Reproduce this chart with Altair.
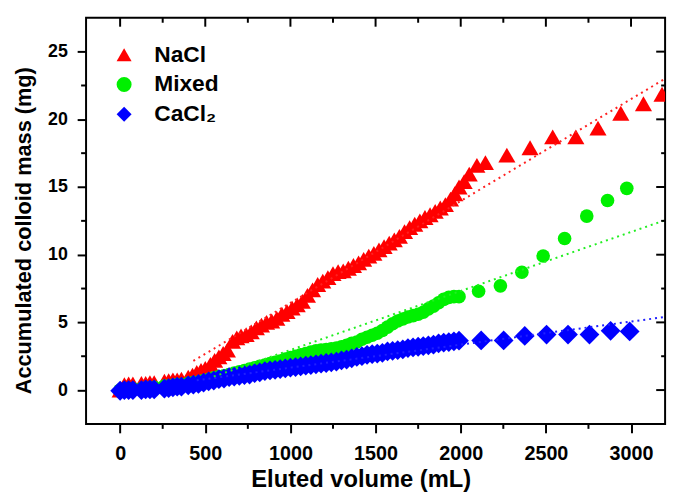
import altair as alt
import pandas as pd

series_names = ["NaCl", "Mixed", "CaCl₂"]
series_colors = ["#ff0000", "#00f000", "#0000ff"]
series_shapes = ["triangle-up", "circle", "diamond"]
series_sizes = [300, 190, 400]

nacl_v = [0, 25, 50, 75, 125, 150, 175, 200, 260, 285, 310, 335, 360, 400, 425, 450, 475, 500,
          530, 555, 580, 605, 630, 660, 685, 710, 740, 770, 800, 830, 860, 890, 920, 950, 980,
          1010, 1040, 1070, 1100, 1130, 1160, 1190, 1220, 1250, 1280, 1310, 1340, 1370, 1400,
          1430, 1460, 1490, 1520, 1550, 1580, 1610, 1640, 1670, 1700, 1730, 1760, 1790, 1820,
          1850, 1880, 1910, 1940, 1965, 1990, 2020, 2050, 2095, 2145, 2271, 2407, 2540, 2676,
          2806, 2940, 3073, 3182]
nacl_m = [0.0, 0.4, 0.45, 0.45, 0.5, 0.5, 0.55, 0.55, 0.65, 0.7, 0.75, 0.75, 0.8, 0.95, 1.1, 1.3,
          1.45, 1.6, 1.9, 2.2, 2.45, 2.7, 2.95, 3.6, 3.85, 4.0, 4.1, 4.3, 4.6, 4.8, 5.0, 5.1, 5.3,
          5.6, 5.8, 6.05, 6.3, 6.55, 7.0, 7.4, 7.8, 8.05, 8.3, 8.6, 8.75, 8.8, 9.0, 9.2, 9.4,
          9.65, 9.9, 10.1, 10.35, 10.6, 10.85, 11.1, 11.35, 11.7, 12.0, 12.25, 12.5, 12.75,
          12.95, 13.2, 13.45, 13.7, 14.1, 14.5, 15.0, 15.4, 15.95, 16.6, 16.8, 17.35, 17.9,
          18.7, 18.7, 19.35, 20.45, 21.15, 21.85]

mixed_v = [0, 25, 50, 75, 125, 150, 175, 200, 260, 285, 310, 335, 360, 400, 430, 460, 490, 520,
           550, 580, 610, 640, 670, 700, 730, 760, 790, 820, 850, 880, 910, 940, 970, 1000, 1030,
           1060, 1090, 1120, 1150, 1180, 1210, 1240, 1270, 1300, 1330, 1360, 1390, 1420, 1450,
           1480, 1510, 1540, 1570, 1600, 1630, 1660, 1690, 1720, 1750, 1780, 1810, 1840, 1870,
           1900, 1930, 1960, 1990, 2105, 2233, 2359, 2484, 2610, 2740, 2862, 2975]
mixed_m = [0.0, 0.05, 0.1, 0.1, 0.1, 0.15, 0.15, 0.2, 0.3, 0.3, 0.35, 0.4, 0.4, 0.5, 0.55, 0.6,
           0.7, 0.8, 0.9, 1.0, 1.05, 1.15, 1.25, 1.35, 1.45, 1.55, 1.65, 1.75, 1.85, 1.95, 2.05,
           2.15, 2.3, 2.4, 2.5, 2.6, 2.7, 2.8, 2.9, 2.95, 3.0, 3.05, 3.1, 3.2, 3.3, 3.45, 3.55,
           3.75, 3.9, 4.05, 4.2, 4.4, 4.65, 4.9, 5.1, 5.25, 5.4, 5.5, 5.6, 5.75, 6.0, 6.2, 6.45,
           6.7, 6.85, 6.9, 6.9, 7.3, 7.7, 8.7, 9.9, 11.2, 12.85, 14.0, 14.9]

cacl2_v = [0, 25, 50, 75, 125, 150, 175, 200, 260, 285, 310, 335, 360, 400, 430, 460, 490, 520,
           550, 580, 610, 640, 670, 700, 730, 760, 790, 820, 850, 880, 910, 940, 970, 1000, 1030,
           1060, 1090, 1120, 1150, 1180, 1210, 1240, 1270, 1300, 1330, 1360, 1390, 1420, 1450,
           1480, 1510, 1540, 1570, 1600, 1630, 1660, 1690, 1720, 1750, 1780, 1810, 1840, 1870,
           1900, 1930, 1960, 1990, 2120, 2252, 2376, 2504, 2630, 2756, 2880, 2992]
cacl2_m = [-0.05, 0.0, 0.0, 0.0, 0.0, 0.05, 0.05, 0.05, 0.1, 0.15, 0.2, 0.25, 0.25, 0.35, 0.4,
           0.45, 0.55, 0.65, 0.7, 0.8, 0.85, 0.95, 1.0, 1.05, 1.1, 1.15, 1.25, 1.3, 1.4, 1.45,
           1.5, 1.55, 1.6, 1.65, 1.7, 1.75, 1.8, 1.85, 1.9, 1.95, 2.0, 2.05, 2.1, 2.2, 2.25,
           2.35, 2.45, 2.5, 2.6, 2.65, 2.7, 2.75, 2.85, 2.9, 2.95, 3.0, 3.1, 3.15, 3.2, 3.25,
           3.3, 3.35, 3.45, 3.5, 3.55, 3.6, 3.65, 3.67, 3.67, 4.0, 4.1, 4.1, 4.1, 4.38, 4.33]

# dotted fit lines (end points)
nacl_fit_v = [430, 3200]
nacl_fit_m = [2.15, 23.0]
mixed_fit_v = [550, 3200]
mixed_fit_m = [1.0, 12.55]
cacl2_fit_v = [450, 3200]
cacl2_fit_m = [0.72, 5.4]

x_major = [0, 500, 1000, 1500, 2000, 2500, 3000]
x_minor = [250, 750, 1250, 1750, 2250, 2750]
y_major = [0, 5, 10, 15, 20, 25]
y_minor = [2.5, 7.5, 12.5, 17.5, 22.5]

FONT = "Liberation Sans"
W, H = 586, 411

xs = alt.Scale(domain=[-200, 3200], nice=False, zero=False)
ys = alt.Scale(domain=[-2.5, 27.5], nice=False, zero=False)

leg = alt.Legend(title=None, orient="none", legendX=27, legendY=26, labelFontSize=23,
                 labelFont=FONT, labelFontWeight="bold", labelColor="black",
                 symbolSize=230, rowPadding=6, labelOffset=19, padding=0,
                 symbolStrokeWidth=0)

x_enc = alt.X("v:Q", scale=xs, axis=alt.Axis(values=x_major, format="d", title="Eluted volume (mL)",
                                             tickSize=9, labelPadding=11, titlePadding=4,
                                             labelFontSize=20, titleFontSize=24, titleX=278))
y_enc = alt.Y("m:Q", scale=ys, axis=alt.Axis(values=y_major, format="d",
                                             title="Accumulated colloid mass (mg)",
                                             tickSize=9, labelPadding=10, titlePadding=12,
                                             labelFontSize=18, titleFontSize=22, titleY=215))
color_enc = alt.Color("series:N", scale=alt.Scale(domain=series_names, range=series_colors), legend=leg)
shape_enc = alt.Shape("series:N", scale=alt.Scale(domain=series_names, range=series_shapes), legend=leg)

point_layers = []
for name, vs, ms, size in zip(series_names, [nacl_v, mixed_v, cacl2_v],
                              [nacl_m, mixed_m, cacl2_m], series_sizes):
    df = pd.DataFrame({"series": name, "v": vs, "m": ms})
    point_layers.append(
        alt.Chart(df).mark_point(filled=True, opacity=1, strokeWidth=0, size=size, clip=True).encode(
            x=x_enc, y=y_enc, color=color_enc, shape=shape_enc)
    )

fit_layers = []
for vs, ms, col in [(nacl_fit_v, nacl_fit_m, "#ff2020"), (mixed_fit_v, mixed_fit_m, "#22ee22"),
                    (cacl2_fit_v, cacl2_fit_m, "#2020ff")]:
    df = pd.DataFrame({"v": vs, "m": ms})
    fit_layers.append(
        alt.Chart(df).mark_line(strokeDash=[2, 4], strokeWidth=2, color=col).encode(
            x=alt.X("v:Q", scale=xs),
            y=alt.Y("m:Q", scale=ys),
        )
    )

def xticks(vals, y0, y1):
    return alt.Chart(pd.DataFrame({"v": vals})).mark_rule(color="black", strokeWidth=2).encode(
        x=alt.X("v:Q", scale=xs), y=alt.value(y0), y2=alt.value(y1))

def yticks(vals, x0, x1):
    return alt.Chart(pd.DataFrame({"m": vals})).mark_rule(color="black", strokeWidth=2).encode(
        y=alt.Y("m:Q", scale=ys), x=alt.value(x0), x2=alt.value(x1))

tick_layers = [
    xticks(x_major, 0, 9), xticks(x_minor, 0, 5), xticks(x_minor, H, H + 5),
    yticks(y_major, W, W - 9), yticks(y_minor, W, W - 4), yticks(y_minor, 0, -5),
]

chart = alt.layer(*point_layers, *fit_layers, *tick_layers).properties(
    width=W, height=H,
    autosize=alt.AutoSizeParams(type="none"),
    padding={"left": 79, "top": 7, "right": 8, "bottom": 67},
).configure_view(stroke="black", strokeWidth=2).configure_axis(
    grid=False, domain=False, tickColor="black", tickWidth=2,
    labelFont=FONT, labelFontWeight="bold", labelColor="black",
    titleFont=FONT, titleFontWeight="bold", titleColor="black",
)

chart.save("out.html", embed_options={"renderer": "svg", "actions": False})
